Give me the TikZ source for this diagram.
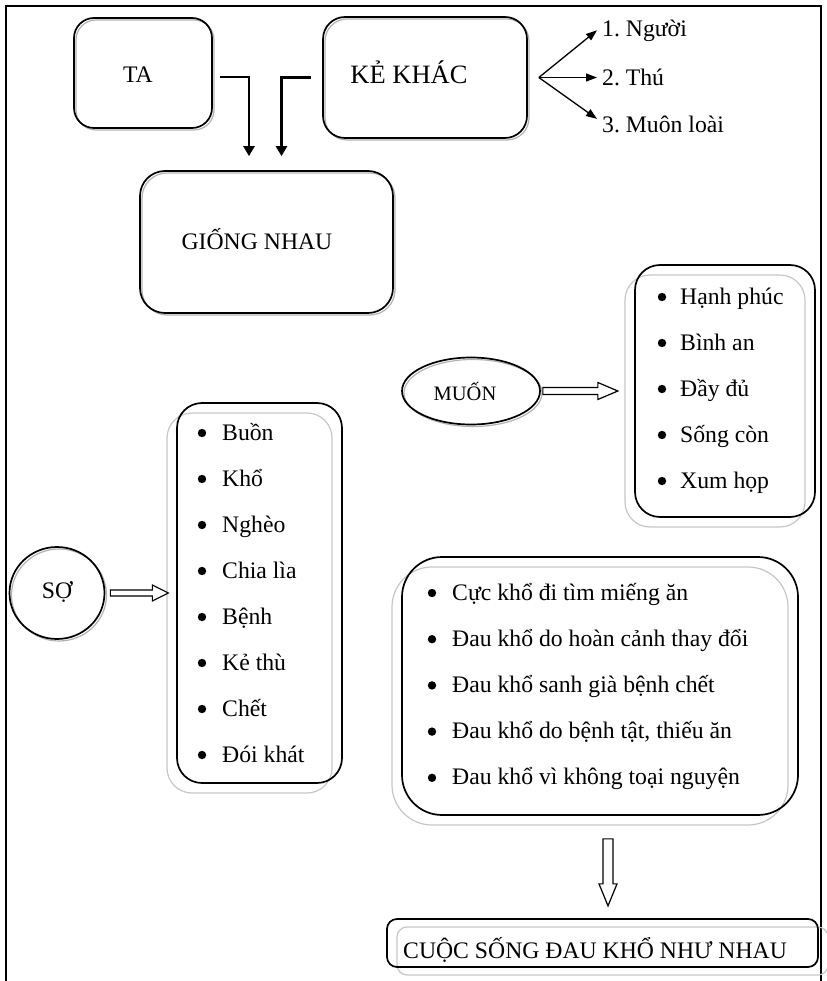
\documentclass[tikz,border=0pt]{standalone}
\usepackage{fontspec}
\setmainfont{Liberation Serif}
\usetikzlibrary{arrows.meta,calc,shapes.geometric,shadows}

\begin{document}
\frenchspacing
\begin{tikzpicture}[x=1pt,y=-1pt,
  lbl/.style={inner sep=0pt, font=\fontsize{23.7}{28}\selectfont},
  bullet item/.style={lbl, anchor=base west},
  softbox/.style={draw=black, line width=1.7pt, rounded corners=#1, inner sep=0pt,
    copy shadow={shadow xshift=2pt, shadow yshift=-2pt, draw=gray!60, fill=none, line width=1.2pt}},
  softoval/.style={ellipse, draw=black, line width=1.7pt, inner sep=0pt,
    copy shadow={shadow xshift=2pt, shadow yshift=-2pt, draw=gray!60, fill=none, line width=1.2pt}},
  listbox/.style={draw=black, line width=1.7pt, rounded corners=#1, inner sep=0pt,
    copy shadow={shadow xshift=-10pt, shadow yshift=-10pt, draw=gray!45, fill=none, line width=1.2pt}},
  elbow/.style={line width=2.4pt, -{Triangle[length=10pt,width=11pt]}},
  fork/.style={line width=1.3pt, -{Triangle[length=11pt,width=8pt]}},
  hollow/.style={draw=black, line width=1.2pt, fill=white, line join=miter},
  dot/.style={fill=black},
]
\useasboundingbox (0,0) rectangle (826,981);

% page frame, open at the bottom
\draw[line width=2.6pt] (6,981) -- (6,6) -- (821,6) -- (821,981);

% top row
\node[softbox=20, minimum width=138, minimum height=110] (ta) at (143,73) {};
\node[lbl, anchor=base] (taT) at (138,83) {TA};
\node[softbox=22, minimum width=204, minimum height=121] (kk) at (425,77.5) {};
\node[lbl, anchor=base, font=\fontsize{26.5}{30}\selectfont] (kkT) at (409,84) {KẺ KHÁC};
\node[softbox=25, minimum width=253, minimum height=142] (gn) at (266.5,242) {};
\node[lbl, anchor=base] (gnT) at (257,250) {GIỐNG NHAU};

\draw[elbow] ($(ta.east)+(7,4)$) -| ($(gn.north)+(-17.5,-14)$);
\draw[elbow] ($(kk.west)+(-11,0)$) -| ($(gn.north)+(15,-14)$);

% kinds of beings
\node[lbl, anchor=base west] (k1) at (602,37) {1. Người};
\node[lbl, anchor=base west] (k2) at (602,86) {2. Thú};
\node[lbl, anchor=base west] (k3) at (602,133) {3. Muôn loài};
\coordinate (fk) at ($(kk.east)+(11,0)$);
\draw[fork] (fk) -- ($(k1.west)+(-5,-1)$);
\draw[fork] (fk) -- ($(fk -| k2.west)+(-5,0)$);
\draw[fork] (fk) -- ($(k3.west)+(-5,-6)$);

% wishes
\node[softoval, minimum width=138, minimum height=67] (muon) at (471,391) {};
\node[lbl, anchor=base, font=\fontsize{20.5}{24}\selectfont] (muonT) at (465,400) {MUỐN};
\node[listbox=25, minimum width=180, minimum height=252] (lm) at (725,391) {};
\foreach \t [count=\i] in {Hạnh phúc, Bình an, Đầy đủ, Sống còn, Xum họp}{
  \node[bullet item] (m\i) at (680,{304+46*(\i-1)}) {\t};
  \fill[dot] ($(m\i.base west)+(-18,-7)$) circle (4.2);
}
\draw[hollow] ($(muon.east)+(2,-3.5)$) -- ++(55,0) -- ++(0,-5) -- ++(20,8.5)
  -- ++(-20,8.5) -- ++(0,-5) -- ++(-55,0) -- cycle;

% fears
\node[softoval, minimum width=95, minimum height=92] (so) at (57,593) {};
\node[lbl, anchor=base] (soT) at (57,598) {SỢ};
\node[listbox=25, minimum width=165, minimum height=380] (ls) at (259.5,593) {};
\foreach \t [count=\i] in {Buồn, Khổ, Nghèo, Chia lìa, Bệnh, Kẻ thù, Chết, Đói khát}{
  \node[bullet item] (s\i) at (222,{440+46*(\i-1)}) {\t};
  \fill[dot] ($(s\i.base west)+(-20,-7)$) circle (4.2);
}
\draw[hollow] ($(so.east)+(5,-3)$) -- ++(42,0) -- ++(0,-5) -- ++(16,8)
  -- ++(-16,8) -- ++(0,-5) -- ++(-42,0) -- cycle;

% sufferings
\node[listbox=40, minimum width=396, minimum height=258] (lb) at (600,686) {};
\foreach \t [count=\i] in {Cực khổ đi tìm miếng ăn, Đau khổ do hoàn cảnh thay đổi,
    Đau khổ sanh già bệnh chết, {Đau khổ do bệnh tật, thiếu ăn}, Đau khổ vì không toại nguyện}{
  \node[bullet item] (b\i) at (452,{600+46.2*(\i-1)}) {\t};
  \fill[dot] ($(b\i.base west)+(-20,-7)$) circle (4.2);
}

% conclusion
\node[draw=black, line width=1.7pt, rounded corners=10, inner sep=0pt,
  minimum width=431, minimum height=48,
  copy shadow={shadow xshift=10pt, shadow yshift=-8pt, draw=gray!45, fill=none, line width=1.2pt}]
  (cs) at (602.5,943) {};
\node[lbl, anchor=base west] (csT) at (403,958) {CUỘC SỐNG ĐAU KHỔ NHƯ NHAU};
\draw[hollow] ($(lb.south)+(3,23)$) -- ++(0,45) -- ++(-4,0) -- ++(9,22)
  -- ++(9,-22) -- ++(-4,0) -- ++(0,-45) -- cycle;
\end{tikzpicture}
\end{document}
